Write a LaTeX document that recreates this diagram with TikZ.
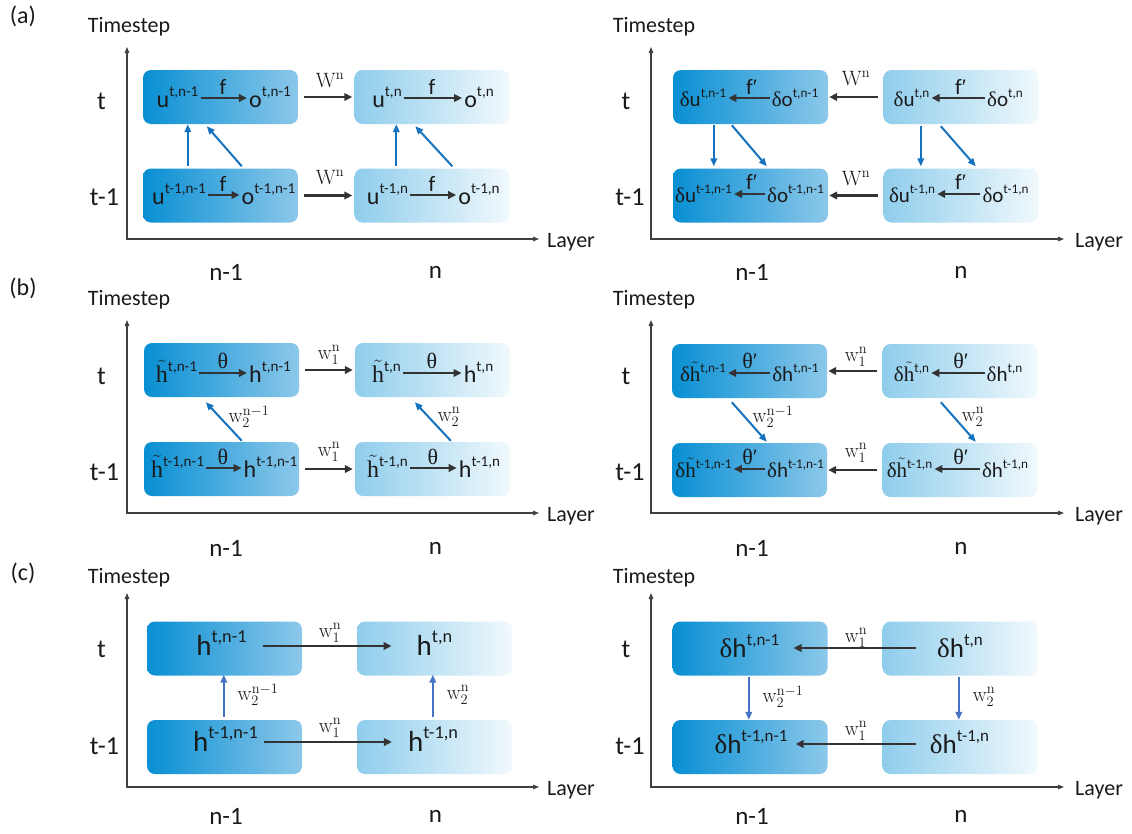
\documentclass[tikz,border=0pt]{standalone}
\usepackage[no-math]{fontspec}
\setmainfont{Carlito}
\newfontfamily\mygrk{Liberation Serif}
\usetikzlibrary{arrows.meta,calc}
\definecolor{bdark}{RGB}{8,143,211}
\definecolor{bmid}{RGB}{140,200,234}
\definecolor{bmidb}{RGB}{143,205,236}
\definecolor{blight}{RGB}{241,249,253}
\definecolor{bluea}{RGB}{21,114,190}
\definecolor{blueb}{RGB}{68,114,196}
\definecolor{arc}{RGB}{51,51,51}
\definecolor{axc}{RGB}{64,64,64}
\definecolor{txt}{RGB}{26,26,26}
\makeatletter
\newcommand\mySu[1]{\raisebox{0.42em}{\fontsize{\fpeval{0.63*\f@size}}{1}\selectfont #1}}
\makeatother
\newcommand\myht{\ensuremath{\tilde{\hbox{\mygrk h}}}}
\newcommand\myd{{\mygrk δ}}
\newcommand\myth{{\mygrk θ}}
\newcommand\mythp{{\mygrk θ′}}
\newcommand\myfp{f{\mygrk ′}}
\newcommand\myw[2]{\ensuremath{\mathrm{w}_{#1}^{\mathrm{#2}}}}
\newcommand\myW{\ensuremath{\mathrm{W}^{\mathrm{n}}}}
\newcommand\myaxes[5]{%
  \coordinate (#1O) at (#2,#3);
  \coordinate (#1Y) at (#2,#5);
  \coordinate (#1X) at (#4,#3);
  \draw[ax] (#1Y) -- (#1O) -- (#1X);}
\begin{document}
\begin{tikzpicture}[x=1pt,y=-1pt,
  bx/.style={rounded corners=8pt, minimum width=155pt, minimum height=54pt, inner sep=0pt},
  bxL/.style={bx, left color=bdark, right color=bmid},
  bxR/.style={bx, left color=bmidb, right color=blight},
  tx/.style={font=\fontsize{24}{26}\selectfont, text=txt, inner sep=2pt, text height=19pt, text depth=1pt},
  txr/.style={font=\fontsize{21}{24}\selectfont, text=txt, inner sep=2pt, text height=18pt, text depth=1pt},
  txc/.style={font=\fontsize{29}{32}\selectfont, text=txt, inner sep=3pt, text height=21pt, text depth=3pt},
  txd/.style={font=\fontsize{27}{30}\selectfont, text=txt, inner sep=3pt, text height=21pt, text depth=3pt},
  lb/.style={font=\fontsize{22}{24}\selectfont, text=txt, inner sep=0pt},
  wl/.style={font=\fontsize{21}{23}\selectfont, text=txt, inner sep=0pt},
  ax/.style={draw=axc, line width=1.2pt, {Triangle[length=6pt,width=4.5pt]}-{Triangle[length=6pt,width=4.5pt]}},
  karr/.style={draw=arc, line width=2.5pt, -{Triangle[length=8pt,width=7.5pt]}},
  barr/.style={draw=bluea, line width=2pt, -{Triangle[length=8pt,width=6.5pt]}},
  carr/.style={draw=blueb, line width=2.2pt, -{Triangle[length=8pt,width=6.5pt]}},
  axl/.style={font=\fontsize{22}{24}\selectfont, text=txt, inner sep=0pt},
  tl/.style={font=\fontsize{26}{28}\selectfont, text=txt, inner sep=0pt},
  nl/.style={font=\fontsize{25}{28}\selectfont, text=txt, inner sep=0pt},
  pl/.style={font=\fontsize{24}{26}\selectfont, text=txt, inner sep=0pt},
]
\useasboundingbox (0,0) rectangle (1132,833);
\fill[white] (0,0) rectangle (1132,833);

% ---------------- panel labels ----------------
\node[pl] (pa) at (23,16) {(a)};
\node[pl] (pb) at (23,288) {(b)};
\node[pl] (pc) at (23,573) {(c)};

% ---------------- axes ----------------
\myaxes{aL}{127}{239}{539}{47}
\myaxes{aR}{651}{239}{1064}{47}
\myaxes{bL}{127}{513}{539}{320}
\myaxes{bR}{651}{513}{1064}{320}
\myaxes{cL}{127}{787}{539}{593}
\myaxes{cR}{651}{787}{1064}{593}

% axis labels
\foreach \p/\yt/\yl/\yn/\ya/\yb in {a/27/242/272/101.5/197.5, b/300/516/548/376/472, c/578/790/816/649/746}{
  \node[axl] (\p TsL) at (129,\yt) {Timestep};
  \node[axl] (\p TsR) at (654,\yt) {Timestep};
  \node[axl, anchor=west] (\p LyL) at (547,\yl) {Layer};
  \node[axl, anchor=west] (\p LyR) at (1075,\yl) {Layer};
  \node[nl] (\p nmL) at (226,\yn) {n-1};
  \node[nl] (\p nL) at (435.5,\yn) {n};
  \node[nl] (\p nmR) at (752,\yn) {n-1};
  \node[nl] (\p nR) at (961,\yn) {n};
  \node[tl] (\p tL) at (101.5,\ya) {t};
  \node[tl] (\p tmL) at (104.5,\yb) {t-1};
  \node[tl] (\p tR) at (626,\ya) {t};
  \node[tl] (\p tmR) at (630,\yb) {t-1};
}

% ================= panel (a) left =================
\node[bxL] (aTL) at (220.5,97) {};
\node[bxR] (aTR) at (432,97) {};
\node[bxL] (aBL) at (220.5,195.5) {};
\node[bxR] (aBR) at (432,195.5) {};
\node[tx] (aTLu) at (177.5,98) {u\mySu{t,n-1}};
\node[tx] (aTLo) at (270,98) {o\mySu{t,n-1}};
\node[tx] (aTRu) at (387,98) {u\mySu{t,n}};
\node[tx] (aTRo) at (479,98) {o\mySu{t,n}};
\node[tx] (aBLu) at (179,195) {u\mySu{t-1,n-1}};
\node[tx] (aBLo) at (268.5,195) {o\mySu{t-1,n-1}};
\node[tx] (aBRu) at (387.5,195) {u\mySu{t-1,n}};
\node[tx] (aBRo) at (479,195) {o\mySu{t-1,n}};
\node[lb] (aTLf) at (223,87) {f};
\node[lb] (aTRf) at (432,87) {f};
\node[lb] (aBLf) at (223,184) {f};
\node[lb] (aBRf) at (432,184) {f};
\node[lb] (aTW) at (330,80) {\myW};
\node[lb] (aBW) at (330,177) {\myW};
\draw[karr] (aTLu) -- (aTLo);
\draw[karr] (aTRu) -- (aTRo);
\draw[karr] (aBLu) -- (aBLo);
\draw[karr] (aBRu) -- (aBRo);
\draw[karr, shorten <=6pt, shorten >=2pt] (aTL) -- (aTR);
\draw[karr, shorten <=6pt, shorten >=2pt] (aBL) -- (aBR);
\draw[barr] ($(aBL.north west)+(45,-2)$) -- ($(aTL.south west)+(45,0)$);
\draw[barr] ($(aBL.north west)+(99,-2)$) -- ($(aTL.south west)+(64,2)$);
\draw[barr] ($(aBR.north west)+(42,-2)$) -- ($(aTR.south west)+(42,0)$);
\draw[barr] ($(aBR.north west)+(98,-2)$) -- ($(aTR.south west)+(61,2)$);

% ================= panel (a) right =================
\node[bxL] (rTL) at (750.5,97) {};
\node[bxR] (rTR) at (961,97) {};
\node[bxL] (rBL) at (750.5,195.5) {};
\node[bxR] (rBR) at (961,195.5) {};
\node[txr] (rTLu) at (703,98) {\myd u\mySu{t,n-1}};
\node[txr] (rTLo) at (795,98) {\myd o\mySu{t,n-1}};
\node[txr] (rTRu) at (911.5,98) {\myd u\mySu{t,n}};
\node[txr] (rTRo) at (1005,98) {\myd o\mySu{t,n}};
\node[txr] (rBLu) at (703.5,194) {\myd u\mySu{t-1,n-1}};
\node[txr] (rBLo) at (795.5,194) {\myd o\mySu{t-1,n-1}};
\node[txr] (rBRu) at (912,194) {\myd u\mySu{t-1,n}};
\node[txr] (rBRo) at (1005.5,194) {\myd o\mySu{t-1,n}};
\node[lb] (rTLf) at (752,87) {\myfp};
\node[lb] (rTRf) at (961,87) {\myfp};
\node[lb] (rBLf) at (752,182) {\myfp};
\node[lb] (rBRf) at (961,182) {\myfp};
\node[lb] (rTW) at (856,78) {\myW};
\node[lb] (rBW) at (856,178) {\myW};
\draw[karr] (rTLo) -- (rTLu);
\draw[karr] (rTRo) -- (rTRu);
\draw[karr] (rBLo) -- (rBLu);
\draw[karr] (rBRo) -- (rBRu);
\draw[karr, shorten <=5pt, shorten >=1pt] (rTR) -- (rTL);
\draw[karr, shorten <=5pt, shorten >=1pt] (rBR) -- (rBL);
\draw[barr] ($(rTL.south west)+(41,1)$) -- ($(rBL.north west)+(41,-2)$);
\draw[barr] ($(rTL.south west)+(59,1)$) -- ($(rBL.north west)+(94,-2)$);
\draw[barr] ($(rTR.south west)+(37.5,2)$) -- ($(rBR.north west)+(37.5,-2)$);
\draw[barr] ($(rTR.south west)+(57.5,2)$) -- ($(rBR.north west)+(92.5,-2)$);

% ================= panel (b) left =================
\node[bxL] (bTL) at (221.5,370) {};
\node[bxR] (bTR) at (432.5,370) {};
\node[bxL] (bBL) at (221.5,469) {};
\node[bxR] (bBR) at (432.5,469) {};
\node[tx] (bTLa) at (176.5,373) {\myht\mySu{t,n-1}};
\node[tx] (bTLb) at (270,373) {h\mySu{t,n-1}};
\node[tx] (bTRa) at (386.5,373) {\myht\mySu{t,n}};
\node[tx] (bTRb) at (478.5,373) {h\mySu{t,n}};
\node[tx] (bBLa) at (177.5,468) {\myht\mySu{t-1,n-1}};
\node[tx] (bBLb) at (270.5,468) {h\mySu{t-1,n-1}};
\node[tx] (bBRa) at (387.5,468) {\myht\mySu{t-1,n}};
\node[tx] (bBRb) at (479.5,468) {h\mySu{t-1,n}};
\node[lb] (bTLt) at (223,361) {\myth};
\node[lb] (bTRt) at (432,361) {\myth};
\node[lb] (bBLt) at (223,457) {\myth};
\node[lb] (bBRt) at (433,457) {\myth};
\node[wl] (bTw) at (329,355) {\myw{1}{n}};
\node[wl] (bBw) at (329,452) {\myw{1}{n}};
\node[wl] (bLw) at (249,417) {\myw{2}{n-1}};
\node[wl] (bRw) at (449,417) {\myw{2}{n}};
\draw[karr] (bTLa) -- (bTLb);
\draw[karr] (bTRa) -- (bTRb);
\draw[karr] (bBLa) -- (bBLb);
\draw[karr] (bBRa) -- (bBRb);
\draw[karr, shorten <=6pt, shorten >=2pt] (bTL) -- (bTR);
\draw[karr, shorten <=6pt, shorten >=2pt] (bBL) -- (bBR);
\draw[barr] ($(bBL.north west)+(98,-1)$) -- ($(bTL.south west)+(62,5)$);
\draw[barr] ($(bBR.north west)+(96,-1)$) -- ($(bTR.south west)+(60,5)$);

% ================= panel (b) right =================
\node[bxL] (sTL) at (749.5,371) {};
\node[bxR] (sTR) at (960,371) {};
\node[bxL] (sBL) at (749.5,470) {};
\node[bxR] (sBR) at (960,470) {};
\node[txr] (sTLa) at (703,373) {\myd\myht\mySu{t,n-1}};
\node[txr] (sTLb) at (795.5,373) {\myd h\mySu{t,n-1}};
\node[txr] (sTRa) at (911.5,373) {\myd\myht\mySu{t,n}};
\node[txr] (sTRb) at (1004.5,373) {\myd h\mySu{t,n}};
\node[txr] (sBLa) at (703.5,469) {\myd\myht\mySu{t-1,n-1}};
\node[txr] (sBLb) at (795.5,469) {\myd h\mySu{t-1,n-1}};
\node[txr] (sBRa) at (909.5,469) {\myd\myht\mySu{t-1,n}};
\node[txr] (sBRb) at (1005,469) {\myd h\mySu{t-1,n}};
\node[lb] (sTLt) at (750,361) {\mythp};
\node[lb] (sTRt) at (961,361) {\mythp};
\node[lb] (sBLt) at (750,457) {\mythp};
\node[lb] (sBRt) at (961,457) {\mythp};
\node[wl] (sTw) at (856,357) {\myw{1}{n}};
\node[wl] (sBw) at (856,453) {\myw{1}{n}};
\node[wl] (sLw) at (773,417) {\myw{2}{n-1}};
\node[wl] (sRw) at (973,417) {\myw{2}{n}};
\draw[karr] (sTLb) -- (sTLa);
\draw[karr] (sTRb) -- (sTRa);
\draw[karr] (sBLb) -- (sBLa);
\draw[karr] (sBRb) -- (sBRa);
\draw[karr, shorten <=5pt, shorten >=1pt] (sTR) -- (sTL);
\draw[karr, shorten <=5pt, shorten >=1pt] (sBR) -- (sBL);
\draw[barr] ($(sTL.south west)+(60,4)$) -- ($(sBL.north west)+(95,-1)$);
\draw[barr] ($(sTR.south west)+(58.5,4)$) -- ($(sBR.north west)+(93.5,-1)$);

% ================= panel (c) left =================
\node[bxL] (cTL) at (224.5,648.5) {};
\node[bxR] (cTR) at (434.5,648.5) {};
\node[bxL] (cBL) at (224.5,747) {};
\node[bxR] (cBR) at (434.5,747) {};
\node[txc] (cTLh) at (221.5,646) {h\mySu{t,n-1}};
\node[txc] (cTRh) at (434.5,646) {h\mySu{t,n}};
\node[txc] (cBLh) at (225.5,742) {h\mySu{t-1,n-1}};
\node[txc] (cBRh) at (433,742) {h\mySu{t-1,n}};
\node[wl] (cTw) at (330,633) {\myw{1}{n}};
\node[wl] (cBw) at (330,728) {\myw{1}{n}};
\node[wl] (cLw) at (258,695) {\myw{2}{n-1}};
\node[wl] (cRw) at (458,695) {\myw{2}{n}};
\draw[karr, line width=2.2pt, shorten <=13pt, shorten >=22pt] (cTLh) -- (cTRh);
\draw[karr, line width=2.2pt, shorten <=3pt, shorten >=13pt] (cBLh) -- (cBRh);
\draw[carr] ($(cBL.north west)+(77,-3)$) -- ($(cTL.south west)+(77,-1)$);
\draw[carr] ($(cBR.north west)+(76,-3)$) -- ($(cTR.south west)+(76,-1)$);

% ================= panel (c) right =================
\node[bxL] (dTL) at (750,648.5) {};
\node[bxR] (dTR) at (960,648.5) {};
\node[bxL] (dBL) at (750,747) {};
\node[bxR] (dBR) at (960,747) {};
\node[txd] (dTLh) at (749.5,648) {\myd h\mySu{t,n-1}};
\node[txd] (dTRh) at (960,648) {\myd h\mySu{t,n}};
\node[txd] (dBLh) at (751,744) {\myd h\mySu{t-1,n-1}};
\node[txd] (dBRh) at (959.5,744) {\myd h\mySu{t-1,n}};
\node[wl] (dTw) at (856,638) {\myw{1}{n}};
\node[wl] (dBw) at (856,731) {\myw{1}{n}};
\node[wl] (dLw) at (783,697) {\myw{2}{n-1}};
\node[wl] (dRw) at (984,697) {\myw{2}{n}};
\draw[karr, line width=2.2pt, shorten <=18pt, shorten >=11pt] (dTRh) -- (dTLh);
\draw[karr, line width=2.2pt, shorten <=11pt, shorten >=5pt] (dBRh) -- (dBLh);
\draw[carr] ($(dTL.south west)+(76.5,1)$) -- ($(dBL.north west)+(76.5,0)$);
\draw[carr] ($(dTR.south west)+(76.5,1)$) -- ($(dBR.north west)+(76.5,0)$);
\end{tikzpicture}
\end{document}
